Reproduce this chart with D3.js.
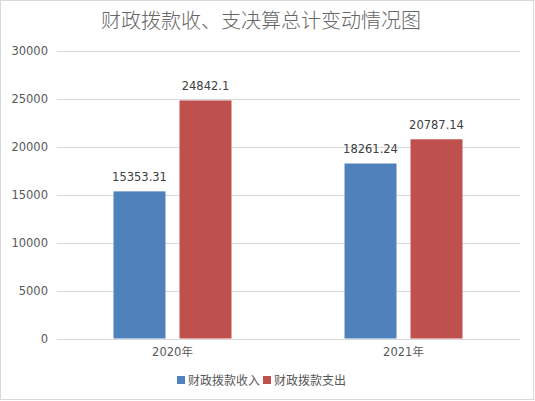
<!DOCTYPE html>
<html>
<head>
<meta charset="utf-8">
<script src="https://cdn.jsdelivr.net/npm/d3@7"></script>
<style>
  body { margin: 0; background: #fff; }
  svg { display: block; }
</style>
</head>
<body>
<script>
// chart data
var categories = ["2020年", "2021年"];
var seriesNames = ["财政拨款收入", "财政拨款支出"];
var income = [15353.31, 18261.24];
var expense = [24842.1, 20787.14];
var yTicks = [0, 5000, 10000, 15000, 20000, 25000, 30000];
var colors = ["#4F81BD", "#C0504D"];

var W = 535, H = 401;
var margin = { top: 51, right: 15, bottom: 62, left: 57 };

var svg = d3.select("body").append("svg")
	.attr("width", W)
	.attr("height", H);

// outer frame
svg.append("rect")
	.attr("x", 0.5).attr("y", 0.5)
	.attr("width", W - 2).attr("height", H - 2)
	.attr("fill", "#fff")
	.attr("stroke", "#d9d9d9");

svg.append("text")
	.attr("x", 261).attr("y", 28)
	.attr("text-anchor", "middle")
	.style("font-family", "'Noto Sans CJK SC', sans-serif")
	.style("font-size", "20px")
	.style("font-weight", 300)
	.style("fill", "#666666")
	.text("财政拨款收、支决算总计变动情况图");

var x0 = d3.scaleBand()
	.domain(categories)
	.range([margin.left, W - margin.right - 1]);

var y = d3.scaleLinear()
	.domain([0, 30000])
	.range([H - margin.bottom - 0.5, margin.top]);

// gridlines
svg.append("g").selectAll("line")
	.data(yTicks)
	.enter().append("line")
	.attr("x1", margin.left)
	.attr("x2", W - margin.right)
	.attr("y1", function(d) { return Math.round(y(d)) + 0.5; })
	.attr("y2", function(d) { return Math.round(y(d)) + 0.5; })
	.attr("stroke", "#d9d9d9");

// y axis labels
var yAxis = svg.append("g")
	.attr("transform", "translate(" + (margin.left - 9) + ",0)")
	.call(d3.axisLeft(y).tickValues(yTicks).tickFormat(d3.format("d")).tickSize(0).tickPadding(0));
yAxis.select(".domain").remove();
yAxis.selectAll("text")
	.style("font-family", "'DejaVu Sans', sans-serif")
	.style("font-size", "11.5px")
	.style("fill", "#595959");

// x axis labels
var xAxis = svg.append("g")
	.attr("transform", "translate(0," + (H - margin.bottom) + ")")
	.call(d3.axisBottom(x0).tickSize(0).tickPadding(9));
xAxis.select(".domain").remove();
xAxis.selectAll("text")
	.style("font-family", "'DejaVu Sans', 'Noto Sans CJK SC', sans-serif")
	.style("font-size", "11.5px")
	.style("fill", "#595959");

var barW = 52, gap = 14;
var rows = categories.map(function(c, i) {
	return { cat: c, values: [income[i], expense[i]] };
});

var groups = svg.append("g").selectAll("g")
	.data(rows)
	.enter().append("g")
	.attr("transform", function(d) {
		return "translate(" + (x0(d.cat) + x0.bandwidth() / 2) + ",0)";
	});

var bars = groups.selectAll("g.bar")
	.data(function(d) { return d.values; })
	.enter().append("g")
	.attr("class", "bar");

bars.append("rect")
	.attr("x", function(d, i) { return i === 0 ? -gap / 2 - barW : gap / 2; })
	.attr("y", function(d) { return y(d); })
	.attr("width", barW)
	.attr("height", function(d) { return y(0) - y(d); })
	.attr("fill", function(d, i) { return colors[i]; });

bars.append("text")
	.attr("x", function(d, i) { return i === 0 ? -gap / 2 - barW / 2 : gap / 2 + barW / 2; })
	.attr("y", function(d) { return y(d) - 10; })
	.attr("text-anchor", "middle")
	.style("font-family", "'DejaVu Sans', sans-serif")
	.style("font-size", "11.5px")
	.style("fill", "#404040")
	.text(function(d) { return d; });

// legend
var legend = svg.append("g")
	.attr("transform", "translate(177,381)");
var legItems = legend.selectAll("g")
	.data(seriesNames)
	.enter().append("g")
	.attr("transform", function(d, i) { return "translate(" + (i * 86) + ",0)"; });
legItems.append("rect")
	.attr("x", 0).attr("y", -5)
	.attr("width", 8).attr("height", 8)
	.attr("fill", function(d, i) { return colors[i]; });
legItems.append("text")
	.attr("x", 11).attr("y", 4)
	.style("font-family", "'Noto Sans CJK SC', sans-serif")
	.style("font-size", "12px")
	.style("fill", "#595959")
	.text(function(d) { return d; });
</script>
</body>
</html>
